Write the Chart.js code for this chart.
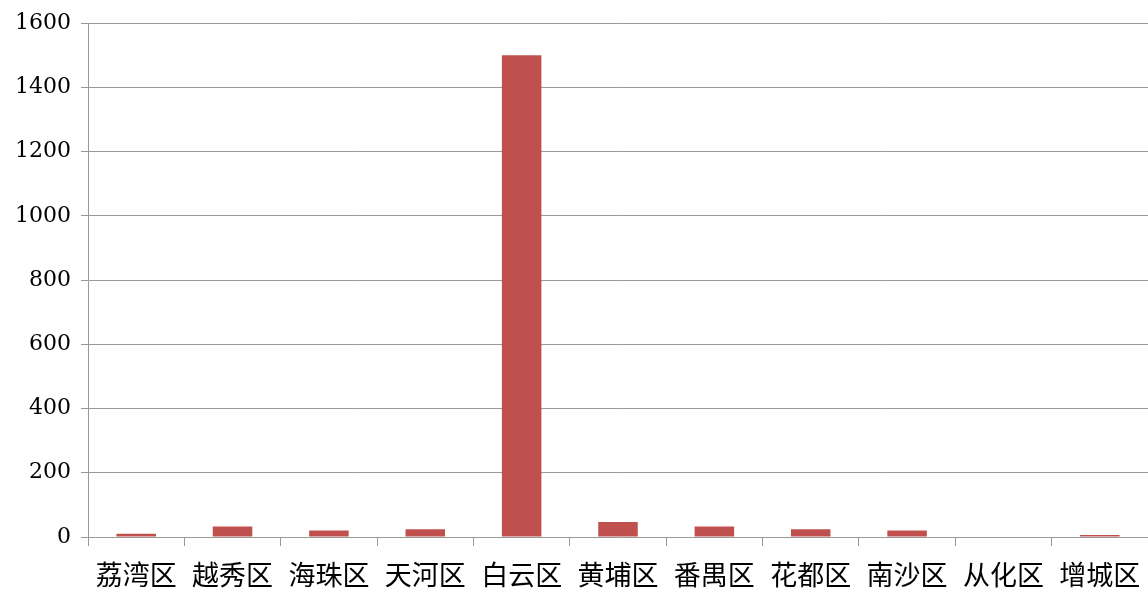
<!DOCTYPE html>
<html>
<head>
<meta charset="utf-8">
<script src="https://cdn.jsdelivr.net/npm/chart.js@4/dist/chart.umd.min.js"></script>
<style>
  html, body { margin: 0; padding: 0; background: #fff; }
  #wrap { width: 1148px; height: 592px; }
</style>
</head>
<body>
<div id="wrap"><canvas id="barChart"></canvas></div>
<script>
// District names along the x axis
const districts = ['荔湾区', '越秀区', '海珠区', '天河区', '白云区', '黄埔区', '番禺区', '花都区', '南沙区', '从化区', '增城区'];
// Bar values
const counts = [10, 33, 20, 24, 1500, 47, 33, 24, 20, 0, 6];
// Y axis ticks
const yTicks = [0, 200, 400, 600, 800, 1000, 1200, 1400, 1600];

window.onload = () => {
  const ctx = document.getElementById('barChart').getContext('2d');
  new Chart(ctx, {
    type: 'bar',
    data: {
      labels: districts,
      datasets: [{
        data: counts,
        backgroundColor: '#C0504D',
        categoryPercentage: 1.0,
        barPercentage: 0.41
      }]
    },
    options: {
      responsive: true,
      maintainAspectRatio: false,
      animation: false,
      layout: { padding: { top: 11, right: 0, left: 0, bottom: 0 } },
      plugins: {
        legend: { display: false },
        tooltip: { enabled: false }
      },
      scales: {
        x: {
          // fixed height so the baseline sits where the reference has it
          afterFit: axis => {
            axis.height = 55;
            axis.paddingLeft = 0;
            axis.paddingRight = 0;
          },
          grid: {
            offset: true,
            drawOnChartArea: false,
            color: '#999',
            tickLength: 9
          },
          border: { color: '#999' },
          ticks: {
            color: '#000',
            font: { family: '"Noto Sans CJK SC"', size: 27, lineHeight: 1.2 },
            maxRotation: 0,
            autoSkip: false,
            padding: 13
          }
        },
        y: {
          min: 0,
          max: 1600,
          afterBuildTicks: axis => { axis.ticks = yTicks.map(v => ({ value: v })); },
          afterFit: axis => { axis.width = 88; },
          grid: { color: '#999', tickLength: 7 },
          border: { color: '#999' },
          ticks: {
            color: '#000',
            font: { family: '"DejaVu Serif"', size: 22 },
            padding: 10,
            callback: v => String(v)
          }
        }
      }
    }
  });
};
</script>
</body>
</html>
